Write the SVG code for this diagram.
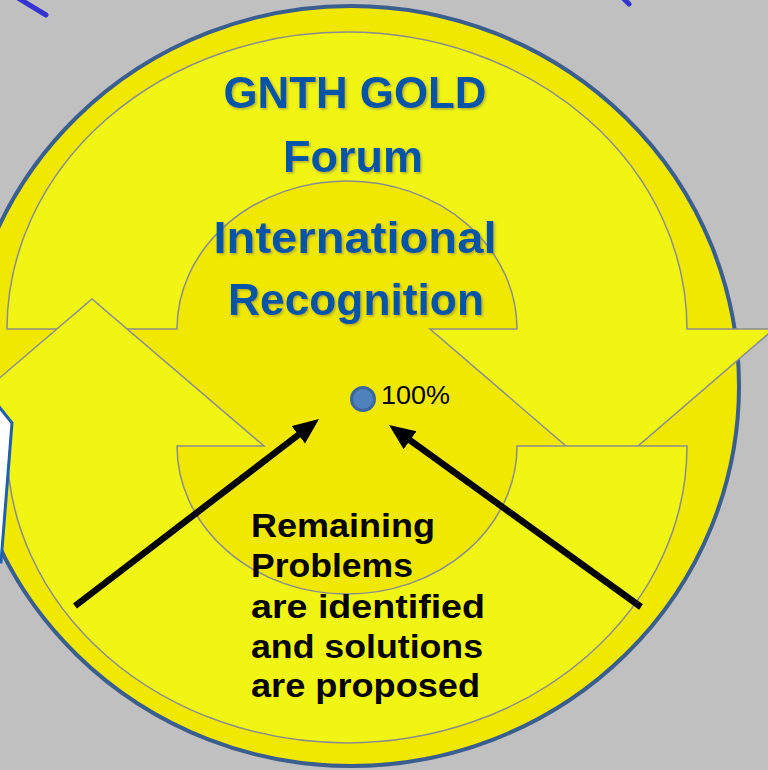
<svg xmlns="http://www.w3.org/2000/svg" width="768" height="770" viewBox="0 0 768 770">
  <defs>
    <style>
      .band { fill: #F0F514; stroke: #8C8C8C; stroke-width: 1.5; }
      .title { font-family: "Liberation Sans", Arial, sans-serif; font-weight: bold; font-size: 44px; fill: #0054A6; text-anchor: middle; }
      .body { font-family: "Liberation Sans", Arial, sans-serif; font-weight: bold; font-size: 34px; fill: #000000; }
      .conn { stroke: #000000; stroke-width: 6.5; fill: none; }
      .deco { stroke: #3434D0; stroke-width: 5; stroke-linecap: round; fill: none; }
    </style>
    <filter id="shadow" x="-10%" y="-20%" width="130%" height="150%">
      <feDropShadow dx="1.5" dy="1.5" stdDeviation="1" flood-color="#7a7a40" flood-opacity="0.55"/>
    </filter>
    <marker id="head" markerUnits="userSpaceOnUse" markerWidth="28" markerHeight="24" refX="8" refY="11" orient="auto">
      <path d="M0,0 L26,11 L0,22 Z" fill="#000000"/>
    </marker>
  </defs>

  <rect x="0" y="0" width="768" height="770" fill="#C0C0C0"/>

  <g id="decorations">
    <line class="deco" x1="-5" y1="-16" x2="46" y2="15"/>
    <line class="deco" x1="620" y1="-5" x2="629" y2="4"/>
  </g>

  <g id="outer-circle">
    <ellipse cx="351" cy="386" rx="388" ry="380" fill="#F0E800" stroke="#3A5F8F" stroke-width="4"/>
  </g>

  <g id="top-arrow">
    <path class="band" d="M 7,329 A 340,297 0 0 1 687,329 L 774,329 L 602,477 L 430,329 L 517,329 A 170,148 0 0 0 177,329 Z"/>
  </g>

  <g id="bottom-arrow">
    <path class="band" d="M 687,446 A 340,297 0 0 1 7,446 L -80,446 L 92,299 L 264,446 L 177,446 A 170,148 0 0 0 517,446 Z"/>
  </g>

  <g id="side-box">
    <polygon points="-40,358 12,423 1,562 -40,562" fill="#FFFFFF" stroke="#1F5FAF" stroke-width="3"/>
  </g>

  <g id="title" filter="url(#shadow)">
    <text class="title" x="355" y="108" textLength="263" lengthAdjust="spacingAndGlyphs">GNTH GOLD</text>
    <text class="title" x="353" y="172" textLength="140" lengthAdjust="spacingAndGlyphs">Forum</text>
    <text class="title" x="355" y="253" textLength="283" lengthAdjust="spacingAndGlyphs">International</text>
    <text class="title" x="356" y="315" textLength="256" lengthAdjust="spacingAndGlyphs">Recognition</text>
  </g>

  <g id="target-point">
    <circle cx="363" cy="399" r="11.5" fill="#4F81BD" stroke="#3B669E" stroke-width="3"/>
    <text x="381" y="404" font-family="'Liberation Sans', Arial, sans-serif" font-size="26.5" fill="#000000" textLength="69" lengthAdjust="spacingAndGlyphs">100%</text>
  </g>

  <g id="problems-text">
    <text class="body" x="251" y="537" textLength="184" lengthAdjust="spacingAndGlyphs">Remaining</text>
    <text class="body" x="251" y="577" textLength="162" lengthAdjust="spacingAndGlyphs">Problems</text>
    <text class="body" x="251" y="618" textLength="234" lengthAdjust="spacingAndGlyphs">are identified</text>
    <text class="body" x="251" y="658" textLength="232" lengthAdjust="spacingAndGlyphs">and solutions</text>
    <text class="body" x="251" y="697" textLength="229" lengthAdjust="spacingAndGlyphs">are proposed</text>
  </g>

  <g id="connectors">
    <line class="conn" x1="75" y1="606" x2="304.7" y2="430" marker-end="url(#head)"/>
    <line class="conn" x1="641" y1="607" x2="403.6" y2="435.6" marker-end="url(#head)"/>
  </g>
</svg>
